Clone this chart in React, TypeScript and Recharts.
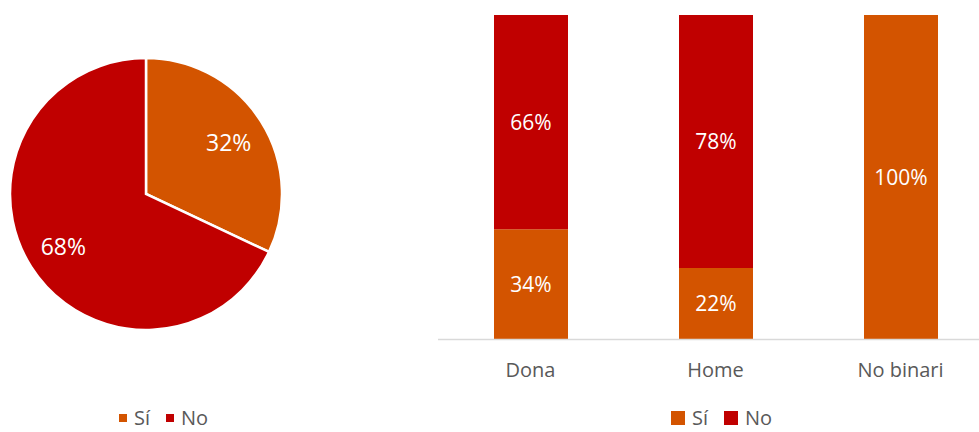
import React from "react";
import { PieChart, Pie, Cell, BarChart, Bar, XAxis, YAxis, LabelList } from "recharts";

const ORANGE = "#D35400";
const RED = "#C00000";
const FONT = "'Open Sans', sans-serif";

// pie: share of Sí / No
const pieNames = ["Sí", "No"];
const pieValues = [32, 68];

// stacked bars by gender
const categories = ["Dona", "Home", "No binari"];
const siValues = [34, 22, 100];
const noValues = [66, 78, 0];

const pieData = pieNames.map((name, i) => ({ name, value: pieValues[i] }));
const barData = categories.map((cat, i) => ({ cat, si: siValues[i], no: noValues[i] }));

const RAD = Math.PI / 180;

const renderPieLabel = (props: any) => {
  const { cx, cy, midAngle, outerRadius, value } = props;
  const r = outerRadius * 0.72;
  const x = cx + r * Math.cos(-midAngle * RAD);
  const y = cy + r * Math.sin(-midAngle * RAD);
  return (
    <text
      x={x}
      y={y}
      fill="#fff"
      fontSize={23}
      fontFamily={FONT}
      textAnchor="middle"
      dominantBaseline="central"
    >
      {value}%
    </text>
  );
};

function LegendBox({ left, top, size }: { left: number; top: number; size: number }) {
  const item = (color: string, label: string, gap: number) => (
    <div style={{ display: "flex", alignItems: "center", marginRight: gap }}>
      <span style={{ width: size, height: size, background: color, marginRight: 7 }} />
      <span>{label}</span>
    </div>
  );
  return (
    <div
      style={{
        position: "absolute",
        left,
        top,
        display: "flex",
        alignItems: "center",
        fontFamily: FONT,
        fontSize: 20,
        color: "#595959",
        lineHeight: "18px",
      }}
    >
      {item(ORANGE, "Sí", 16)}
      {item(RED, "No", 0)}
    </div>
  );
}

export default function App() {
  return (
    <div
      style={{
        position: "absolute",
        left: 0,
        top: 0,
        width: 979,
        height: 432,
        overflow: "hidden",
        background: "#fff",
      }}
    >
      <div style={{ position: "absolute", left: 0, top: 0 }}>
        <PieChart width={300} height={400} margin={{ top: 0, right: 0, bottom: 0, left: 0 }}>
          <Pie
            data={pieData}
            dataKey="value"
            nameKey="name"
            cx={146}
            cy={194}
            outerRadius={136}
            startAngle={90}
            endAngle={-270}
            stroke="#fff"
            strokeWidth={2.5}
            labelLine={false}
            label={renderPieLabel}
            isAnimationActive={false}
          >
            {pieData.map((d, i) => (
              <Cell key={d.name} fill={i === 0 ? ORANGE : RED} />
            ))}
          </Pie>
        </PieChart>
      </div>
      <LegendBox left={119} top={409} size={8} />

      <div style={{ position: "absolute", left: 430, top: 0 }}>
        <BarChart
          width={563}
          height={432}
          data={barData}
          margin={{ top: 15, right: 0, bottom: 0, left: 8 }}
        >
          <XAxis
            dataKey="cat"
            height={92.5}
            axisLine={{ stroke: "#D9D9D9", strokeWidth: 1.5 }}
            tickLine={false}
            tickSize={6}
            tickMargin={17}
            tick={{ fill: "#595959", fontSize: 20, fontFamily: FONT }}
          />
          <YAxis hide domain={[0, 100]} />
          <Bar dataKey="si" stackId="a" fill={ORANGE} barSize={74} isAnimationActive={false}>
            <LabelList
              dataKey="si"
              position="center"
              fill="#fff"
              fontSize={21}
              fontFamily={FONT}
              formatter={(v: any) => (v ? `${v}%` : "")}
            />
          </Bar>
          <Bar dataKey="no" stackId="a" fill={RED} barSize={74} isAnimationActive={false}>
            <LabelList
              dataKey="no"
              position="center"
              fill="#fff"
              fontSize={21}
              fontFamily={FONT}
              formatter={(v: any) => (v ? `${v}%` : "")}
            />
          </Bar>
        </BarChart>
      </div>
      <LegendBox left={671} top={409} size={14} />
    </div>
  );
}
